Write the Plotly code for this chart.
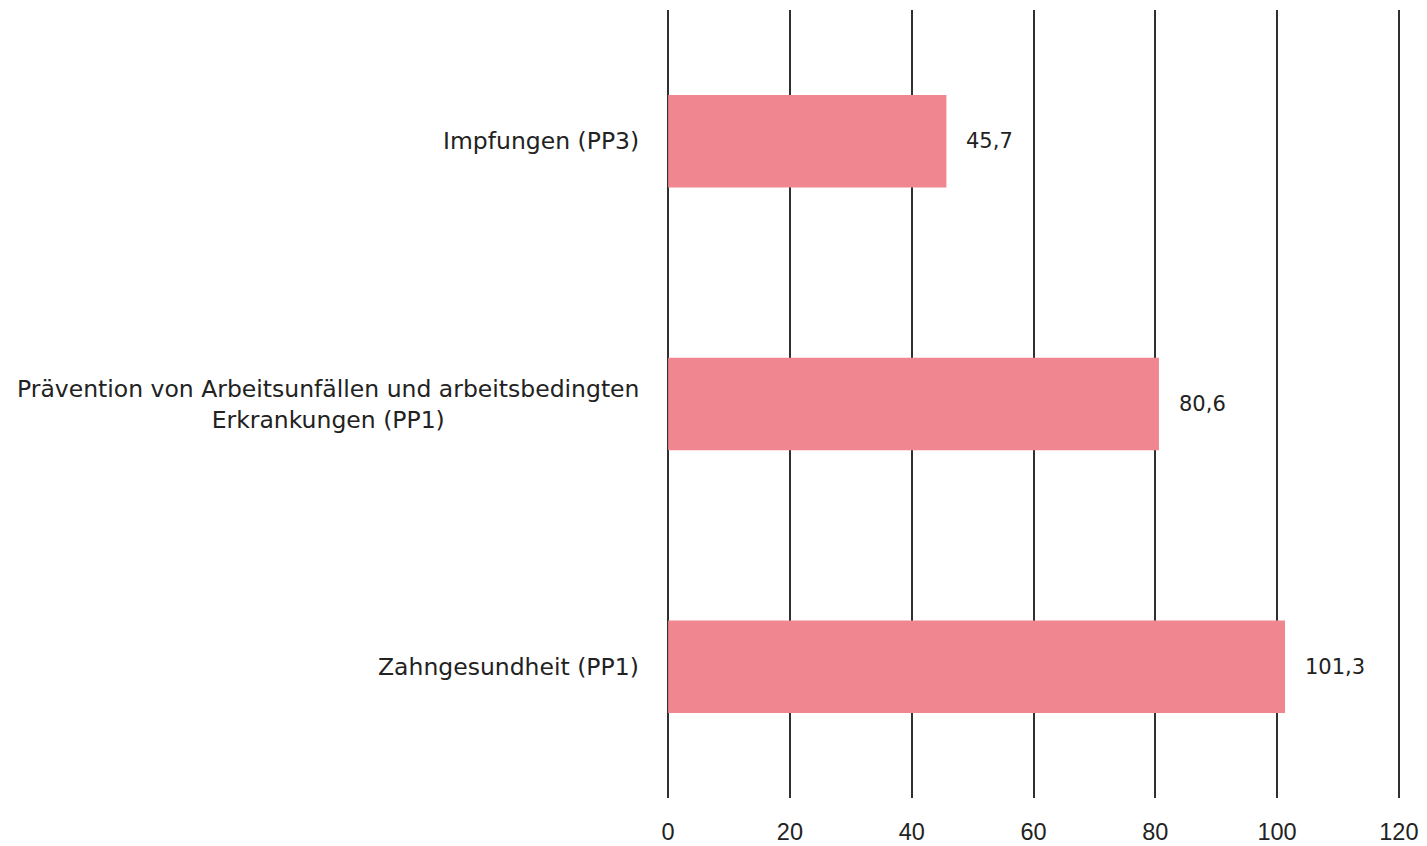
import plotly.graph_objects as go

categories = ["Zahngesundheit (PP1)",
              "Prävention von Arbeitsunfällen und arbeitsbedingten<br>Erkrankungen (PP1)",
              "Impfungen (PP3)"]
values = [101.3, 80.6, 45.7]
value_labels = ["101,3", "80,6", "45,7"]
tick_vals = [0, 20, 40, 60, 80, 100, 120]

bar_color = "#F0868F"
text_color = "#222222"

fig = go.Figure()
fig.add_trace(go.Bar(
    x=values, y=categories, orientation="h",
    marker=dict(color=bar_color, line=dict(width=0)),
    width=0.352, hoverinfo="skip",
))

annotations = []
for c, v, t in zip(categories, values, value_labels):
    annotations.append(dict(x=v, y=c, xref="x", yref="y", text=t, showarrow=False,
                            xanchor="left", xshift=18,
                            font=dict(family="DejaVu Sans", size=21, color=text_color)))
    annotations.append(dict(x=0, y=c, xref="paper", yref="y", text=c, showarrow=False,
                            xanchor="right", align="center", xshift=-25,
                            font=dict(family="DejaVu Sans", size=23.5, color=text_color)))

fig.update_layout(
    width=1419, height=838,
    margin=dict(l=658, r=26, t=2, b=48),
    paper_bgcolor="white", plot_bgcolor="white",
    showlegend=False,
    annotations=annotations,
    xaxis=dict(range=[-0.35, 120.35], tickvals=tick_vals, ticktext=[str(t) for t in tick_vals],
               showgrid=True, gridcolor="#303030", gridwidth=2, zeroline=False,
               showline=False, ticks="", ticklabelstandoff=17, automargin=False,
               tickfont=dict(family="Liberation Sans, Arial", size=23.5, color=text_color)),
    yaxis=dict(categoryorder="array", categoryarray=categories, range=[-0.5, 2.5],
               showticklabels=False, showgrid=False, zeroline=False, showline=False, ticks="",
               automargin=False),
)

fig.write_html("out.html")
